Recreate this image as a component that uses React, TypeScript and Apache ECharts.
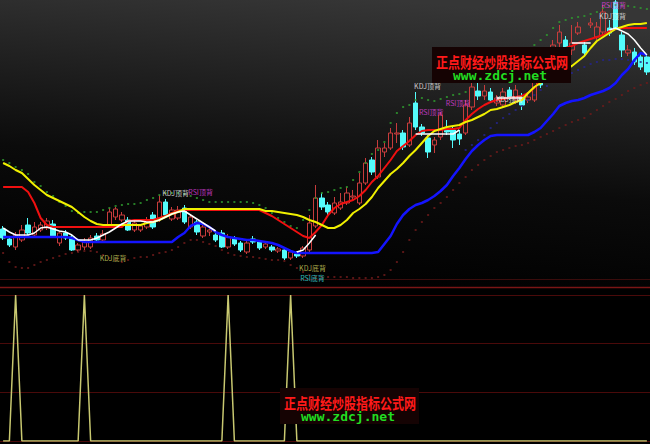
import React, { useEffect, useRef } from "react";
import * as echarts from "echarts";

// ---------- data (price units, 104 trading days) ----------
const N = 104;
const days: string[] = Array.from({ length: N }, (_, i) => String(i + 1));

// [open, close, low, high]
const candles: number[][] = [
  [71, 62, 60, 74], [61, 55, 53, 64], [53, 65, 50, 68], [60, 70, 58, 75], [75, 67, 65, 82],
  [65, 73, 64, 78], [70, 75, 68, 78], [72, 79, 70, 82], [76, 63, 62, 80], [57, 67, 54, 69],
  [67, 62, 60, 70], [63, 50, 49, 65], [50, 55, 48, 57], [53, 58, 50, 62], [53, 62, 51, 65],
  [64, 60, 59, 67], [60, 66, 58, 70], [74, 88, 72, 92], [83, 91, 80, 93], [80, 85, 78, 88],
  [80, 70, 69, 83], [70, 77, 68, 80], [70, 74, 68, 76], [73, 80, 71, 83], [85, 73, 71, 88],
  [82, 98, 78, 105], [98, 85, 82, 101], [81, 90, 79, 93], [82, 90, 80, 94], [92, 78, 76, 95],
  [73, 83, 71, 86], [78, 68, 65, 80], [64, 73, 62, 76], [68, 70, 64, 74], [65, 60, 58, 68],
  [67, 53, 52, 70], [53, 63, 51, 66], [62, 56, 54, 64], [57, 50, 48, 59], [48, 57, 46, 60],
  [61, 58, 56, 64], [58, 52, 50, 60], [53, 56, 51, 59], [53, 50, 48, 55], [49, 51, 47, 53],
  [50, 42, 40, 52], [42, 48, 40, 50], [46, 44, 42, 49], [44, 52, 42, 54], [50, 77, 48, 85],
  [74, 102, 72, 115], [102, 93, 90, 107], [95, 88, 85, 98], [87, 97, 85, 103], [92, 98, 90, 107],
  [97, 107, 95, 113], [103, 104, 100, 110], [97, 117, 95, 127], [117, 137, 115, 142], [140, 128, 125, 143],
  [123, 152, 121, 160], [148, 152, 143, 157], [152, 167, 150, 172], [166, 167, 157, 177], [167, 153, 150, 170],
  [155, 177, 153, 183], [197, 173, 170, 208], [173, 167, 164, 176], [162, 148, 142, 165], [155, 160, 147, 163],
  [163, 185, 160, 188], [170, 168, 165, 180], [170, 160, 152, 174], [166, 161, 155, 170], [167, 195, 165, 200],
  [193, 213, 190, 217], [209, 204, 200, 217], [204, 209, 200, 215], [208, 200, 197, 212], [197, 202, 194, 205],
  [195, 208, 192, 212], [210, 203, 200, 213], [200, 210, 196, 215], [203, 195, 190, 207], [200, 203, 197, 208],
  [200, 220, 198, 230], [228, 215, 212, 235], [220, 238, 218, 245], [240, 255, 238, 260], [257, 268, 253, 275],
  [260, 252, 248, 264], [250, 257, 245, 275], [267, 273, 265, 278], [255, 247, 244, 260], [275, 277, 272, 282],
  [263, 273, 260, 278], [268, 288, 265, 295], [272, 267, 264, 280], [298, 272, 270, 300], [265, 250, 243, 268],
  [247, 250, 244, 255], [248, 238, 235, 252], [243, 233, 230, 246], [243, 228, 225, 246],
];

const yellowLine: number[] = [
  137, 134, 130, 127, 121, 115, 110, 105, 102, 99,
  96, 93, 88, 83, 79, 76, 75, 75, 75, 75,
  75, 75, 75, 77, 78, 80, 83, 86, 88, 91,
  91, 91, 91, 91, 91, 91, 91, 91, 91, 91,
  91, 91, 89, 89, 88, 87, 86, 85, 83, 80,
  78, 75, 72, 72, 75, 80, 87, 91, 96, 103,
  112, 119, 126, 131, 137, 144, 150, 157, 164, 169,
  171, 173, 174, 175, 178, 180, 183, 186, 190, 191,
  193, 195, 198, 200, 207, 213, 217, 222, 225, 228,
  231, 234, 239, 244, 252, 259, 263, 267, 271, 273,
  275, 276, 276, 277,
];

const redLine: number[] = [
  113, 113, 113, 113, 108, 97, 82, 75, 73, 73,
  73, 73, 73, 73, 73, 73, 73, 73, 73, 73,
  79, 80, 80, 80, 80, 82, 84, 87, 89, 90,
  90, 90, 90, 90, 90, 90, 90, 90, 90, 90,
  90, 90, 87, 84, 80, 76, 72, 68, 64, 62,
  68, 75, 85, 92, 96, 98, 100, 104, 110, 118,
  124, 132, 140, 149, 154, 159, 165, 169, 170, 170,
  170, 171, 171, 172, 180, 186, 191, 195, 198, 200,
  201, 202, 203, 204, 207, 212, 220, 230, 240, 248,
  252, 254, 257, 259, 261, 263, 265, 269, 271, 272,
  272, 272, 272, 272,
];

const blueLine: number[] = [
  63, 63, 63, 63, 63, 63, 63, 63, 63, 63,
  63, 62, 60, 58, 58, 58, 58, 58, 58, 58,
  58, 58, 58, 58, 58, 58, 58, 58, 63, 67,
  74, 77, 76, 73, 68, 65, 63, 62, 61, 60,
  60, 59, 58, 57, 55, 52, 49, 47, 47, 47,
  47, 47, 47, 47, 47, 47, 47, 47, 47, 47,
  48, 56, 64, 76, 85, 91, 95, 97, 100, 104,
  109, 115, 124, 132, 141, 149, 155, 160, 164, 165,
  165, 165, 165, 165, 165, 168, 172, 179, 186, 194,
  197, 199, 200, 202, 205, 207, 209, 212, 217, 225,
  231, 240, 247, 245,
];

const whiteLine: (number | null)[] = [
  72, 68, 65, 65, 65, 67, 72, 73, 71, 69,
  68, 65, 60, 60, 60, 62, 65, 68, 72, 76,
  79, 79, 79, 78, 78, 80, 83, 86, 88, 89,
  85, 81, 77, 73, 69, null, null, null, null, null,
  null, null, null, null, null, null, null, 48, 50, 57,
  65, null, null, null, null, null, null, null, null, null,
  null, null, null, null, null, null, 166, 166, 166, 166,
  166, 166, 166, 170, null, null, null, null, null, 202,
  202, 202, 202, 202, null, null, null, null, null, null,
  null, 257, 257, 257, 257, null, null, 270, 272, 269,
  266, 260, 252, 245,
];

const upperDots: number[] = [
  140, 137, 133, 130, 126, 118, 114, 108, 104, 98,
  94, 89, 87, 88, 88, 88, 90, 92, 94, 95,
  96, 96, 97, 100, 102, 105, 107, 107, 107, 106,
  104, 102, 100, 98, 98, 98, 98, 98, 98, 98,
  97, 95, 92, 87, 82, 78, 74, 72, 80, 90,
  102, 107, 108, 110, 112, 113, 120, 128, 137, 146,
  150, 158, 177, 187, 193, 195, 200, 202, 200, 199,
  201, 203, 205, 206, 208, 220, 228, 234, 236, 238,
  240, 242, 243, 245, 250, 255, 260, 265, 272, 278,
  280, 282, 283, 284, 286, 288, 292, 294, 295, 295,
  294, 293, 292, 291,
];

const lowerDots: number[] = [
  47, 38, 33, 32, 32, 35, 38, 40, 42, 44,
  46, 47, 48, 49, 49, 48, 45, 42, 40, 38,
  40, 42, 43, 43, 45, 47, 48, 50, 53, 57,
  60, 60, 58, 56, 54, 50, 47, 45, 44, 43,
  43, 42, 41, 40, 40, 39, 35, 32, 28, 25,
  23, 23, 23, 23, 23, 23, 22, 22, 22, 22,
  23, 25, 30, 38, 48, 60, 70, 78, 85, 92,
  97, 103, 110, 117, 123, 130, 135, 140, 144, 148,
  150, 152, 154, 155, 157, 160, 163, 166, 169, 172,
  175, 178, 180, 182, 186, 190, 194, 198, 201, 205,
  209, 212, 215, 217,
];

// middle dotted band, only visible on the right-hand part
const midDotsStart = 74;
const midDots: number[] = [
  150, 155, 160, 165, 172, 177, 182, 186, 190, 194,
  200, 205, 210, 214, 218, 221, 224, 227, 230, 233,
  236, 238, 240, 240, 241, 241, 240, 239, 238, 237,
];

// divergence signals (lower panel spikes)
const signalDays: number[] = [2, 13, 36, 46];

// divergence annotations: text, day position, price level
const noteTexts: string[] = ["KDJ底背", "KDJ顶背", "RSI顶背", "KDJ底背", "RSI底背", "KDJ顶背", "RSI顶背", "RSI顶背", "KDJ顶背", "RSI顶背", "KDJ顶背"];
const noteDays: number[] = [17.6, 27.6, 31.6, 49.5, 49.5, 67.9, 68.5, 72.8, 81, 97.7, 97.5];
const notePrices: number[] = [42, 107, 108, 32, 22, 214, 188, 197, 201, 295, 284];

const noteColors: Record<string, string> = {
  "KDJ顶背": "#f2f2f2",
  "RSI顶背": "#e040e0",
  "KDJ底背": "#d8d860",
  "RSI底背": "#40e0e0",
};

// ---------- chart ----------
function buildOption() {
  const spikes = days.map((_, i) => (signalDays.includes(i) ? 1 : 0));
  const up = upperDots.map((v, i) => [i, v]);
  const lo = lowerDots.map((v, i) => [i, v]);
  const mid = midDots.map((v, k) => [midDotsStart + k, v]);
  const notes = noteTexts.map((t, k) => ({
    name: t,
    value: [noteDays[k], notePrices[k]],
    label: { color: noteColors[t] },
  }));

  const gridLeft = -1.6;
  const gridWidth = 652;

  const watermark = (cx: number, top: number) => ({
    type: "group",
    z: 100,
    children: [
      {
        type: "rect",
        z: 100,
        shape: { x: cx - 70, y: top, width: 139, height: 36 },
        style: { fill: "#150303" },
      },
      {
        type: "text",
        z: 101,
        x: cx,
        y: top + 14,
        scaleX: 0.8,
        style: {
          text: "正点财经炒股指标公式网",
          fill: "#ff1a1a",
          fontSize: 15,
          fontWeight: "bold",
          fontFamily: "Noto Sans CJK SC",
          align: "center",
          verticalAlign: "middle",
        },
      },
      {
        type: "text",
        z: 101,
        x: cx - 2,
        y: top + 28,
        style: {
          text: "www.zdcj.net",
          fill: "#22dd22",
          fontSize: 13,
          fontWeight: "bold",
          fontFamily: "DejaVu Sans Mono",
          align: "center",
          verticalAlign: "middle",
        },
      },
    ],
  });

  return {
    animation: false,
    backgroundColor: "#000000",
    graphic: [
      {
        type: "rect",
        z: -1,
        shape: { x: 0, y: 0, width: 650, height: 287 },
        style: {
          fill: {
            type: "linear",
            x: 0.6,
            y: 0,
            x2: 0.4,
            y2: 1,
            colorStops: [
              { offset: 0, color: "#363636" },
              { offset: 0.6, color: "#0b0b0b" },
              { offset: 1, color: "#000000" },
            ],
          },
        },
      },
      {
        type: "line",
        z: 1,
        shape: { x1: 0, y1: 279.5, x2: 650, y2: 279.5 },
        style: { stroke: "#3a0c0c", lineWidth: 1 },
      },
      {
        type: "line",
        z: 1,
        shape: { x1: 0, y1: 287.5, x2: 650, y2: 287.5 },
        style: { stroke: "#7a1616", lineWidth: 1.5 },
      },
      watermark(502, 47),
      watermark(350, 388),
    ],
    grid: [
      { left: gridLeft, width: gridWidth, top: 0, height: 300 },
      { left: gridLeft, width: gridWidth, top: 295, height: 146 },
    ],
    xAxis: [
      { type: "category", gridIndex: 0, data: days, show: false, boundaryGap: true },
      { type: "category", gridIndex: 1, data: days, show: false, boundaryGap: true },
      { type: "value", gridIndex: 0, min: -0.5, max: N - 0.5, show: false },
    ],
    yAxis: [
      { type: "value", gridIndex: 0, min: 0, max: 300, show: false },
      {
        type: "value",
        gridIndex: 1,
        min: 0,
        max: 1,
        interval: 1 / 3,
        axisLabel: { show: false },
        axisLine: { show: false },
        axisTick: { show: false },
        splitLine: { show: true, lineStyle: { color: "#4a0a0a", width: 1 } },
      },
    ],
    series: [
      {
        type: "candlestick",
        xAxisIndex: 0,
        yAxisIndex: 0,
        data: candles,
        barWidth: 5,
        z: 2,
        itemStyle: {
          color: "rgba(0,0,0,0)",
          color0: "#54fcfc",
          borderColor: "#c83c3c",
          borderColor0: "#54fcfc",
          borderWidth: 1,
        },
      },
      {
        type: "scatter",
        xAxisIndex: 0,
        yAxisIndex: 0,
        data: up,
        symbol: "rect",
        symbolSize: 2,
        z: 3,
        itemStyle: { color: "#2e9a2e" },
      },
      {
        type: "scatter",
        xAxisIndex: 0,
        yAxisIndex: 0,
        data: lo,
        symbol: "rect",
        symbolSize: 2,
        z: 3,
        itemStyle: { color: "#6e1a1a" },
      },
      {
        type: "scatter",
        xAxisIndex: 0,
        yAxisIndex: 0,
        data: mid,
        symbol: "rect",
        symbolSize: 2,
        z: 3,
        itemStyle: { color: "#24248c" },
      },
      {
        type: "line",
        xAxisIndex: 0,
        yAxisIndex: 0,
        data: blueLine,
        symbol: "none",
        z: 4,
        lineStyle: { color: "#1414ff", width: 2.5 },
      },
      {
        type: "line",
        xAxisIndex: 0,
        yAxisIndex: 0,
        data: redLine,
        symbol: "none",
        z: 4,
        lineStyle: { color: "#f01010", width: 2 },
      },
      {
        type: "line",
        xAxisIndex: 0,
        yAxisIndex: 0,
        data: yellowLine,
        symbol: "none",
        z: 5,
        lineStyle: { color: "#f0f000", width: 2 },
      },
      {
        type: "line",
        xAxisIndex: 0,
        yAxisIndex: 0,
        data: whiteLine,
        symbol: "none",
        connectNulls: false,
        z: 6,
        lineStyle: { color: "#ffffff", width: 1.5 },
      },
      {
        type: "scatter",
        xAxisIndex: 2,
        yAxisIndex: 0,
        data: notes,
        symbolSize: 0,
        z: 8,
        label: {
          show: true,
          position: "inside",
          formatter: "{b}",
          fontSize: 7,
          lineHeight: 8,
          fontFamily: "Noto Sans CJK SC",
        },
      },
      {
        type: "line",
        xAxisIndex: 1,
        yAxisIndex: 1,
        data: spikes,
        symbol: "none",
        z: 4,
        lineStyle: { color: "#c8c870", width: 1.5 },
      },
    ],
  };
}

export default function App() {
  const ref = useRef<HTMLDivElement>(null);
  useEffect(() => {
    document.body.style.margin = "0";
    document.body.style.background = "#000";
    const chart = echarts.init(ref.current as HTMLDivElement, null, { renderer: "svg" });
    chart.setOption(buildOption() as any);
    return () => {
      chart.dispose();
    };
  }, []);
  return <div ref={ref} style={{ width: 650, height: 444 }} />;
}
